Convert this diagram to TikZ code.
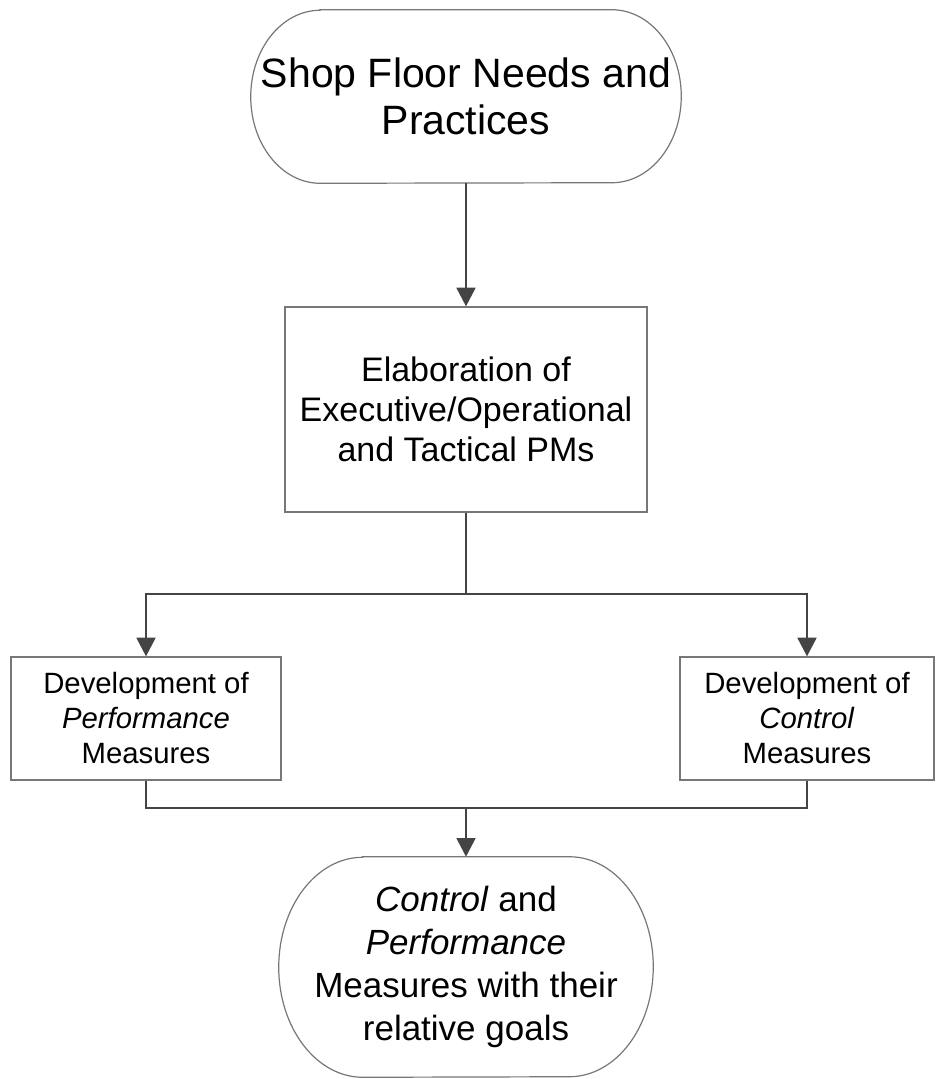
\documentclass[tikz,border=0pt]{standalone}
\usepackage{fontspec}
\setmainfont{Liberation Sans}
\usetikzlibrary{arrows.meta}
\definecolor{linegray}{HTML}{444444}
\definecolor{boxgray}{HTML}{777777}
\begin{document}
\begin{tikzpicture}[x=0.75pt,y=-0.75pt,
  box/.style={draw=boxgray,line width=0.9pt,inner sep=0pt,align=center,text=black},
  term/.style={inner sep=0pt,align=center,text=black},
  outline/.style={draw=boxgray,line width=0.9pt},
  conn/.style={draw=linegray,line width=2.1pt},
  arr/.style={conn,-{Triangle[length=14pt,width=14pt]}}]
\useasboundingbox[fill=white] (0,0) rectangle (936,1079);

% start terminator
\node[term,minimum width=322.5pt,minimum height=129.75pt,
      font=\fontsize{30.75}{35.25}\selectfont] (shop) at (466,96.5)
      {Shop Floor Needs and\\Practices};
\draw[outline] ([xshift=52pt]shop.north west) -- ([xshift=-52pt]shop.north east)
  arc[start angle=90,end angle=-90,x radius=52pt,y radius=64.875pt]
  -- ([xshift=52pt]shop.south west)
  arc[start angle=270,end angle=90,x radius=52pt,y radius=64.875pt] -- cycle;

% elaboration step
\node[box,minimum width=271.5pt,minimum height=153.75pt,
      font=\fontsize{25.5}{30}\selectfont] (elab) at (466,409.5)
      {Elaboration of\\Executive/Operational\\and Tactical PMs};

% two development steps
\node[box,minimum width=202.5pt,minimum height=92.25pt,
      font=\fontsize{22}{26.25}\selectfont] (perf) at (146,718.5)
      {Development of\\\textit{Performance}\\Measures};
\node[box,minimum width=190.5pt,minimum height=92.25pt,
      font=\fontsize{22}{26.25}\selectfont] (ctrl) at (807,718.5)
      {Development of\\\textit{Control}\\Measures};

% end terminator
\node[term,minimum width=280.5pt,minimum height=165pt,
      font=\fontsize{26.25}{32.25}\selectfont] (goals) at (466,967)
      {\textit{Control} and\\\textit{Performance}\\Measures with their\\relative goals};
\draw[outline] ([xshift=63pt]goals.north west) -- ([xshift=-63pt]goals.north east)
  arc[start angle=90,end angle=-90,x radius=63pt,y radius=82.5pt]
  -- ([xshift=63pt]goals.south west)
  arc[start angle=270,end angle=90,x radius=63pt,y radius=82.5pt] -- cycle;

% connectors
\coordinate (split) at (466,594);
\coordinate (join) at (466,808);
\draw[arr] (shop.south) -- (elab.north);
\draw[conn] (elab.south) -- (split);
\draw[arr] (split) -| (perf.north);
\draw[arr] (split) -| (ctrl.north);
\draw[conn] (perf.south) |- (join);
\draw[conn] (ctrl.south) |- (join);
\draw[arr] (join) -- (goals.north);
\end{tikzpicture}
\end{document}
